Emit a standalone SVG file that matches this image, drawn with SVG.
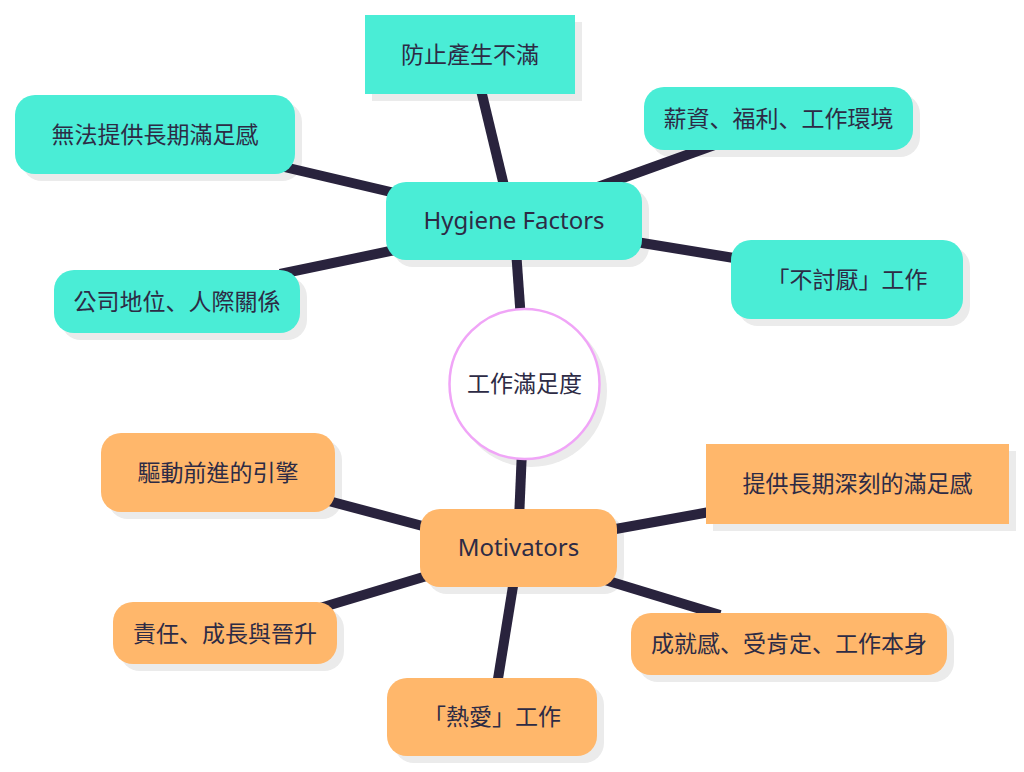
<svg xmlns="http://www.w3.org/2000/svg" width="1024" height="772" viewBox="0 0 1024 772">
<style>
.sh{fill:#EBEBEB}
.hy{fill:#4AEDD6}
.mo{fill:#FFB76B}
.edge{stroke:#29233D;stroke-width:10;fill:none}
text{fill:#2D2B45;text-anchor:middle;font-family:"Noto Sans","Noto Sans CJK TC",sans-serif;font-size:23px}
.lat{font-size:24px}
.c{font-family:"Noto Sans CJK JP",sans-serif}
</style>
<rect width="1024" height="772" fill="#FFFFFF"/>
<g id="shadows">
<rect class="sh" x="372" y="22" width="210" height="79"/>
<rect class="sh" x="22" y="102" width="280" height="79" rx="20"/>
<rect class="sh" x="61" y="277" width="246" height="63" rx="20"/>
<rect class="sh" x="393" y="189" width="256" height="78" rx="20"/>
<rect class="sh" x="651" y="94" width="269" height="63" rx="20"/>
<rect class="sh" x="738" y="247" width="232" height="79" rx="20"/>
<circle class="sh" cx="531" cy="391" r="76"/>
<rect class="sh" x="427" y="516" width="197" height="78" rx="20"/>
<rect class="sh" x="108" y="440" width="234" height="79" rx="20"/>
<rect class="sh" x="120" y="609" width="224" height="62" rx="20"/>
<rect class="sh" x="394" y="685" width="210" height="78" rx="20"/>
<rect class="sh" x="713" y="451" width="303" height="80"/>
<rect class="sh" x="638" y="620" width="316" height="62" rx="20"/>
</g>
<g id="connectors">
<line class="edge" x1="505" y1="190" x2="480" y2="86"/>
<line class="edge" x1="395" y1="193" x2="280" y2="166"/>
<line class="edge" x1="400" y1="249" x2="280" y2="274"/>
<line class="edge" x1="595" y1="188" x2="720" y2="143"/>
<line class="edge" x1="630" y1="241" x2="740" y2="259"/>
<line class="edge" x1="516" y1="250" x2="521" y2="320"/>
<line class="edge" x1="522" y1="450" x2="519" y2="520"/>
<line class="edge" x1="430" y1="528" x2="325" y2="500"/>
<line class="edge" x1="430" y1="575" x2="320" y2="608"/>
<line class="edge" x1="514" y1="580" x2="497" y2="685"/>
<line class="edge" x1="610" y1="530" x2="715" y2="511"/>
<line class="edge" x1="605" y1="580" x2="720" y2="615"/>
</g>
<g id="n-fangzhi">
<rect class="hy" x="365" y="15" width="210" height="79"/>
<text x="470" y="63">防止產生不滿</text>
</g>
<g id="n-wufa">
<rect class="hy" x="15" y="95" width="280" height="79" rx="20"/>
<text x="155" y="143">無法提供長期滿足感</text>
</g>
<g id="n-gongsi">
<rect class="hy" x="54" y="270" width="246" height="63" rx="20"/>
<text x="177" y="310">公司地位<tspan class="c">、</tspan>人際關係</text>
</g>
<g id="n-hygiene">
<rect class="hy" x="386" y="182" width="256" height="78" rx="20"/>
<text class="lat" x="514" y="229">Hygiene Factors</text>
</g>
<g id="n-xinzi">
<rect class="hy" x="644" y="87" width="269" height="63" rx="20"/>
<text x="778.5" y="127">薪資<tspan class="c">、</tspan>福利<tspan class="c">、</tspan>工作環境</text>
</g>
<g id="n-butaoyan">
<rect class="hy" x="731" y="240" width="232" height="79" rx="20"/>
<text x="847" y="288">「不討厭」工作</text>
</g>
<g id="n-center">
<circle cx="524.5" cy="384" r="75" fill="#FFFFFF" stroke="#F0A5F7" stroke-width="2.5"/>
<text x="524.5" y="392">工作滿足度</text>
</g>
<g id="n-motivators">
<rect class="mo" x="420" y="509" width="197" height="78" rx="20"/>
<text class="lat" x="518.5" y="556">Motivators</text>
</g>
<g id="n-qudong">
<rect class="mo" x="101" y="433" width="234" height="79" rx="20"/>
<text x="218" y="481">驅動前進的引擎</text>
</g>
<g id="n-zeren">
<rect class="mo" x="113" y="602" width="224" height="62" rx="20"/>
<text x="225" y="642">責任<tspan class="c">、</tspan>成長與晉升</text>
</g>
<g id="n-reai">
<rect class="mo" x="387" y="678" width="210" height="78" rx="20"/>
<text x="492" y="725">「熱愛」工作</text>
</g>
<g id="n-tigong">
<rect class="mo" x="706" y="444" width="303" height="80"/>
<text x="857.5" y="492">提供長期深刻的滿足感</text>
</g>
<g id="n-chengjiu">
<rect class="mo" x="631" y="613" width="316" height="62" rx="20"/>
<text x="789" y="652">成就感<tspan class="c">、</tspan>受肯定<tspan class="c">、</tspan>工作本身</text>
</g>
</svg>
